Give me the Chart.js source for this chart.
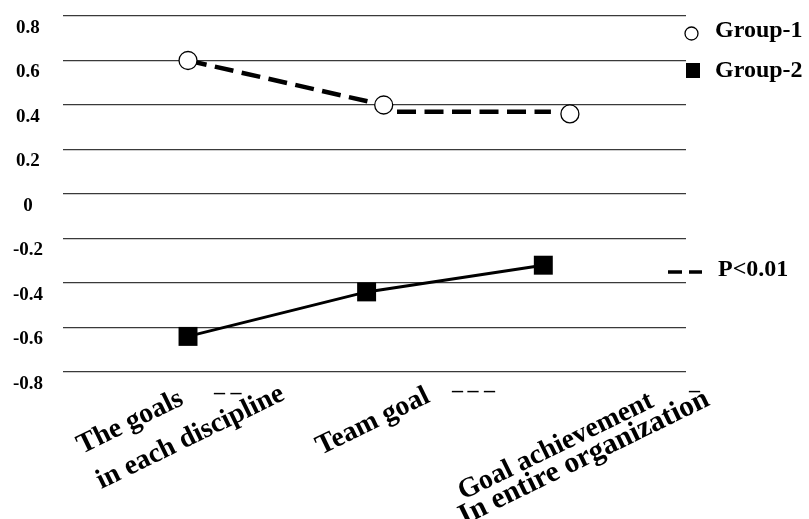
<!DOCTYPE html>
<html>
<head>
<meta charset="utf-8">
<script src="https://cdn.jsdelivr.net/npm/chart.js@4/dist/chart.umd.min.js"></script>
<style>
  html, body { margin: 0; padding: 0; background: #fff; }
  #wrap { width: 809px; height: 519px; position: relative; }
  canvas { display: block; }
</style>
</head>
<body>
<div id="wrap"><canvas id="c" width="809" height="519"></canvas></div>
<script>
// Category labels (multi-line) and their anchor positions on the x scale
const categories = [["The goals", "in each discipline"], ["Team goal"], ["Goal achievement", "In entire organization"]];
const categoryPos = [1, 2, 3];

// Group-1 (open circles) and Group-2 (filled squares)
const group1X = [1.00, 2.03, 3.01];
const group1 = [0.60, 0.40, 0.36];
const group2X = [1.00, 1.94, 2.87];
const group2 = [-0.64, -0.44, -0.32];

// Dashed significance line (P<0.01)
const sigX = [1.00, 2.03, null, 2.10, 2.91];
const sigY = [0.60, 0.40, null, 0.37, 0.37];

// Y axis ticks and their printed labels
const yTicks = [0.8, 0.6, 0.4, 0.2, 0, -0.2, -0.4, -0.6, -0.8];
const yTickLabels = ["0.8", "0.6", "0.4", "0.2", "0", "-0.2", "-0.4", "-0.6", "-0.8"];

const FONT = '"Liberation Serif", "Times New Roman", serif';

const toPoints = (xs, ys) => xs.map((x, i) => (x === null ? { x: null, y: null } : { x: x, y: ys[i] }));

// Label layout: start of first line relative to the category pixel,
// then per-line [along, across, font size] in the rotated frame
const labelLayout = [
  { dx: -106, y: 454, lines: [[0, 0, 28], [2, 40, 28]] },
  { dx: -57, y: 455, lines: [[0, 0, 28]] },
  { dx: -105, y: 500, lines: [[0, 0, 28], [-10, 23, 29.5]] }
];
const LABEL_ANGLE = -26 * Math.PI / 180;

const decorations = {
  id: 'decorations',
  afterDraw(chart) {
    const ctx = chart.ctx;
    const xs = chart.scales.x;
    ctx.save();
    ctx.fillStyle = '#000';
    ctx.textBaseline = 'alphabetic';
    ctx.textAlign = 'left';

    // rotated category labels
    categories.forEach((lines, i) => {
      const L = labelLayout[i];
      const px = xs.getPixelForValue(categoryPos[i]) + L.dx;
      ctx.save();
      ctx.translate(px, L.y);
      ctx.rotate(LABEL_ANGLE);
      lines.forEach((t, j) => {
        const off = L.lines[j];
        ctx.font = 'bold ' + off[2] + 'px ' + FONT;
        ctx.fillText(t, off[0], off[1]);
      });
      ctx.restore();
    });

    // short dash marks under the axis
    ctx.font = 'bold 22px ' + FONT;
    ctx.fillText('\u2013 \u2013', 214, 399);
    ctx.fillText('\u2013\u2009\u2013 \u2013', 452, 397);
    ctx.fillText('\u2013', 689, 397);

    // legend
    ctx.font = 'bold 24px ' + FONT;
    ctx.textBaseline = 'middle';
    ctx.lineWidth = 1.3;
    ctx.strokeStyle = '#000';
    ctx.fillStyle = '#fff';
    ctx.beginPath();
    ctx.arc(691.5, 33.5, 6.5, 0, Math.PI * 2);
    ctx.fill();
    ctx.stroke();
    ctx.fillStyle = '#000';
    ctx.fillRect(686, 63, 14, 15);
    ctx.fillText('Group-1', 715, 31);
    ctx.fillText('Group-2', 715, 71);

    ctx.lineWidth = 3.5;
    ctx.beginPath();
    ctx.moveTo(668, 272); ctx.lineTo(682, 272);
    ctx.moveTo(689, 272); ctx.lineTo(702, 272);
    ctx.stroke();
    ctx.fillText('P<0.01', 718, 270);
    ctx.restore();
  }
};

new Chart(document.getElementById('c'), {
  type: 'line',
  data: {
    datasets: [
      {
        label: 'Group-1',
        data: toPoints(group1X, group1),
        showLine: false,
        pointStyle: 'circle',
        pointRadius: 9,
        pointBackgroundColor: '#fff',
        pointBorderColor: '#000',
        pointBorderWidth: 1.3
      },
      {
        label: 'Group-2',
        data: toPoints(group2X, group2),
        borderColor: '#000',
        borderWidth: 3,
        pointStyle: 'rect',
        pointRadius: 13.4,
        pointBackgroundColor: '#000',
        pointBorderColor: '#000',
        pointBorderWidth: 0
      },
      {
        label: 'P<0.01',
        data: toPoints(sigX, sigY),
        borderColor: '#000',
        borderWidth: 4.5,
        borderDash: [19, 8.5],
        pointRadius: 0,
        spanGaps: false
      }
    ]
  },
  options: {
    responsive: false,
    animation: false,
    devicePixelRatio: 1,
    layout: { padding: { top: 16, right: 123, bottom: 0, left: 0 } },
    plugins: { legend: { display: false }, tooltip: { enabled: false } },
    scales: {
      x: {
        type: 'linear',
        min: 0.342,
        max: 3.621,
        grid: { display: false },
        border: { display: false },
        ticks: { display: false },
        afterFit(s) { s.height = 147; s.paddingLeft = 0; s.paddingRight = 0; }
      },
      y: {
        min: -0.8,
        max: 0.8,
        afterBuildTicks(s) { s.ticks = yTicks.map(v => ({ value: v })); },
        grid: { color: '#3a3a3a', lineWidth: 1.3, drawTicks: false },
        border: { display: false },
        ticks: {
          color: '#000',
          font: { family: FONT, size: 19, weight: 'bold' },
          crossAlign: 'center',
          padding: 20,
          labelOffset: 12,
          callback(v, i) { return yTickLabels[i]; }
        },
        afterFit(s) { s.width = 63; s.paddingTop = 0; s.paddingBottom = 0; }
      }
    }
  },
  plugins: [decorations]
});
</script>
</body>
</html>
